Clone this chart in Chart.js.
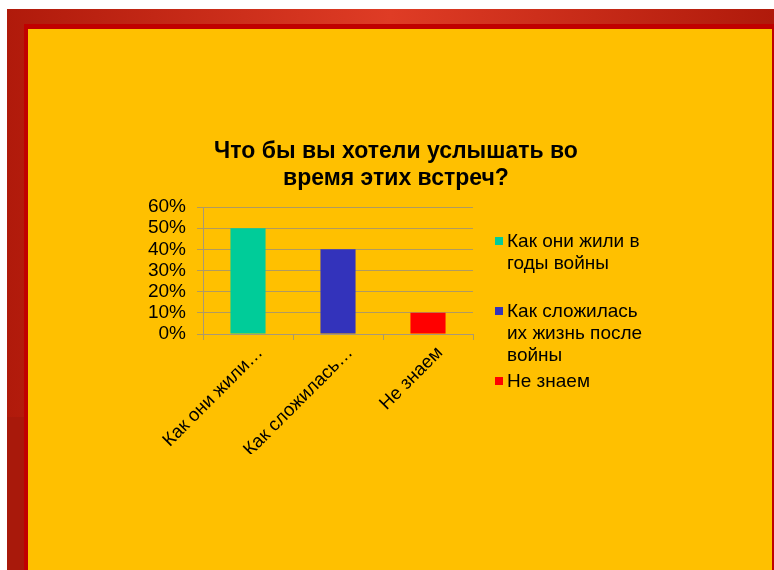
<!DOCTYPE html>
<html>
<head>
<meta charset="utf-8">
<script src="https://cdn.jsdelivr.net/npm/chart.js@4.4.1/dist/chart.umd.min.js"></script>
<style>
  body { margin: 0; background: #fff; width: 774px; height: 570px; overflow: hidden; position: relative; }
  #frame { position: absolute; left: 7px; top: 9px; right: 0; bottom: 0;
    background: linear-gradient(to right, #b01a0b, #df3c25 50%, #b01a0b); }
  #frameLow { position: absolute; left: 7px; top: 417px; width: 17px; bottom: 0; background: #a8190b; }
  #inner { position: absolute; left: 24px; top: 24px; right: 0; bottom: 0; background: #c00000; }
  #slide { position: absolute; left: 28px; top: 29px; right: 2px; bottom: 0; background: #ffc000; }
  #chart { position: absolute; left: 0; top: 0; }
</style>
</head>
<body>
<div id="frame"></div>
<div id="frameLow"></div>
<div id="inner"></div>
<div id="slide"></div>
<canvas id="chart" width="774" height="570"></canvas>
<script>
const titleLines = ["Что бы вы хотели услышать во", "время этих встреч?"];
const tickLabels = ["Как они жили…", "Как сложилась…", "Не знаем"];
const legendLabels = [
  ["Как они жили в", "годы войны"],
  ["Как сложилась", "их жизнь после", "войны"],
  ["Не знаем"]
];
const shares = [0.5, 0.4, 0.1];
const barColors = ["#00cc99", "#3333bb", "#ff0000"];

Chart.defaults.font.family = '"Liberation Sans", Arial, sans-serif';
Chart.defaults.color = "#000";

// title and the right-hand legend are drawn straight on the canvas
const slideText = {
  id: "slideText",
  afterDraw(chart) {
    const ctx = chart.ctx;
    ctx.save();
    ctx.fillStyle = "#000";
    ctx.textAlign = "center";
    ctx.textBaseline = "alphabetic";
    ctx.font = 'bold 23px "Liberation Sans", Arial, sans-serif';
    titleLines.forEach((t, i) => ctx.fillText(t, 396, 158 + i * 27));

    ctx.textAlign = "left";
    ctx.font = '19px "Liberation Sans", Arial, sans-serif';
    const colors = chart.data.datasets[0].backgroundColor;
    legendLabels.forEach((lines, i) => {
      const y0 = 247 + i * 70;
      ctx.fillStyle = colors[i];
      ctx.fillRect(495, y0 - 10, 8, 8);
      ctx.fillStyle = "#000";
      lines.forEach((t, j) => ctx.fillText(t, 507, y0 + j * 22));
    });
    ctx.restore();
  }
};

new Chart(document.getElementById("chart"), {
  type: "bar",
  data: {
    labels: tickLabels,
    datasets: [{
      data: shares,
      backgroundColor: barColors,
      categoryPercentage: 1,
      barPercentage: 0.39
    }]
  },
  options: {
    responsive: false,
    animation: false,
    devicePixelRatio: 1,
    layout: { padding: { left: 143, right: 301, top: 207, bottom: 116 } },
    plugins: { legend: { display: false }, tooltip: { enabled: false }, title: { display: false } },
    scales: {
      x: {
        afterFit: (s) => { s.height = 120; },
        grid: { drawOnChartArea: false, drawTicks: true, tickLength: 6, color: "#b09a60", offset: true },
        border: { color: "#a89878" },
        ticks: { font: { size: 18.5 }, minRotation: 45, maxRotation: 45, padding: 2, labelOffset: 12, color: "#000" }
      },
      y: {
        min: 0, max: 0.6,
        afterFit: (s) => { s.width = 60; },
        grid: { color: "#b09a60", tickLength: 6 },
        border: { color: "#a89878" },
        ticks: {
          stepSize: 0.1, autoSkip: false, padding: 11, font: { size: 19 }, color: "#000",
          callback: (v) => Math.round(v * 100) + "%"
        }
      }
    }
  },
  plugins: [slideText]
});
</script>
</body>
</html>
